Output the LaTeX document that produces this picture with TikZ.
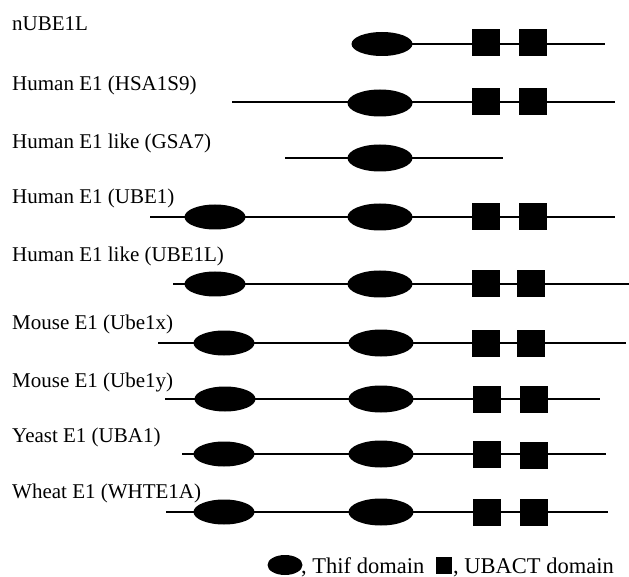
\documentclass[tikz,border=0pt]{standalone}
\usepackage{fontspec}
\setmainfont{Liberation Serif}
\usetikzlibrary{shapes.geometric}
\tikzset{
  lbl/.style={anchor=base west, inner sep=0pt, font=\fontsize{21}{24}\selectfont},
  leg/.style={anchor=base west, inner sep=0pt, font=\fontsize{22.5}{26}\selectfont},
  chain/.style={line width=2pt, black},
  thif/.style={ellipse, fill=black, minimum width=65pt, minimum height=27pt, inner sep=0pt},
  thifa/.style={thif, minimum width=61pt, minimum height=25pt},
  ubact/.style={rectangle, fill=black, minimum width=28pt, minimum height=27pt, inner sep=0pt},
}
\begin{document}
\begin{tikzpicture}[x=1pt,y=-1pt]
\useasboundingbox (0,0) rectangle (629,577);
% row 1
\node[lbl] (l1) at (12,31) {nUBE1L};
\coordinate (s1) at (353,44); \coordinate (e1) at (605,44);
\draw[chain] (s1) -- (e1);
\node[thif, minimum width=61pt, minimum height=24pt] (a1) at (382,44) {};
\node[ubact] (p1) at (486,43) {};
\node[ubact] (q1) at (533,43) {};
% row 2
\node[lbl] (l2) at (12,91) {Human E1 (HSA1S9)};
\coordinate (s2) at (232,102); \coordinate (e2) at (615,102);
\draw[chain] (s2) -- (e2);
\node[thif] (a2) at (380,103) {};
\node[ubact] (p2) at (486,102) {};
\node[ubact] (q2) at (533,102) {};
% row 3
\node[lbl] (l3) at (12,149) {Human E1 like (GSA7)};
\coordinate (s3) at (285,158); \coordinate (e3) at (503,158);
\draw[chain] (s3) -- (e3);
\node[thif] (a3) at (380,158) {};
% row 4
\node[lbl] (l4) at (12,204) {Human E1 (UBE1)};
\coordinate (s4) at (150,217); \coordinate (e4) at (615,217);
\draw[chain] (s4) -- (e4);
\node[thifa] (b4) at (215,217) {};
\node[thif] (a4) at (380,217) {};
\node[ubact] (p4) at (486,217) {};
\node[ubact] (q4) at (533,217) {};
% row 5
\node[lbl] (l5) at (12,262) {Human E1 like (UBE1L)};
\coordinate (s5) at (173,284); \coordinate (e5) at (629,284);
\draw[chain] (s5) -- (e5);
\node[thifa] (b5) at (215,284) {};
\node[thif] (a5) at (380,284) {};
\node[ubact] (p5) at (486,284) {};
\node[ubact] (q5) at (531,284) {};
% row 6
\node[lbl] (l6) at (12,330) {Mouse E1 (Ube1x)};
\coordinate (s6) at (158,343); \coordinate (e6) at (626,343);
\draw[chain] (s6) -- (e6);
\node[thifa] (b6) at (224,343) {};
\node[thif] (a6) at (381,343) {};
\node[ubact] (p6) at (486,343) {};
\node[ubact] (q6) at (531,343) {};
% row 7
\node[lbl] (l7) at (12,387) {Mouse E1 (Ube1y)};
\coordinate (s7) at (165,399); \coordinate (e7) at (600,399);
\draw[chain] (s7) -- (e7);
\node[thifa] (b7) at (225,399) {};
\node[thif] (a7) at (381,399) {};
\node[ubact] (p7) at (487,399) {};
\node[ubact] (q7) at (534,399) {};
% row 8
\node[lbl] (l8) at (12,442) {Yeast E1 (UBA1)};
\coordinate (s8) at (182,454); \coordinate (e8) at (606,454);
\draw[chain] (s8) -- (e8);
\node[thifa] (b8) at (224,454) {};
\node[thif] (a8) at (381,454) {};
\node[ubact] (p8) at (487,454) {};
\node[ubact] (q8) at (534,455) {};
% row 9
\node[lbl] (l9) at (12,498) {Wheat E1 (WHTE1A)};
\coordinate (s9) at (166,512); \coordinate (e9) at (608,512);
\draw[chain] (s9) -- (e9);
\node[thifa] (b9) at (224,512) {};
\node[thif] (a9) at (381,512) {};
\node[ubact] (p9) at (487,512) {};
\node[ubact] (q9) at (534,512) {};
% legend
\node[thif, minimum width=35pt, minimum height=20pt] (la) at (285,565) {};
\node[leg] (lt) at (301,573) {, Thif domain};
\node[ubact, minimum width=16pt, minimum height=17pt] (lb) at (444,565) {};
\node[leg] (lu) at (453,573) {, UBACT domain};
\end{tikzpicture}
\end{document}
